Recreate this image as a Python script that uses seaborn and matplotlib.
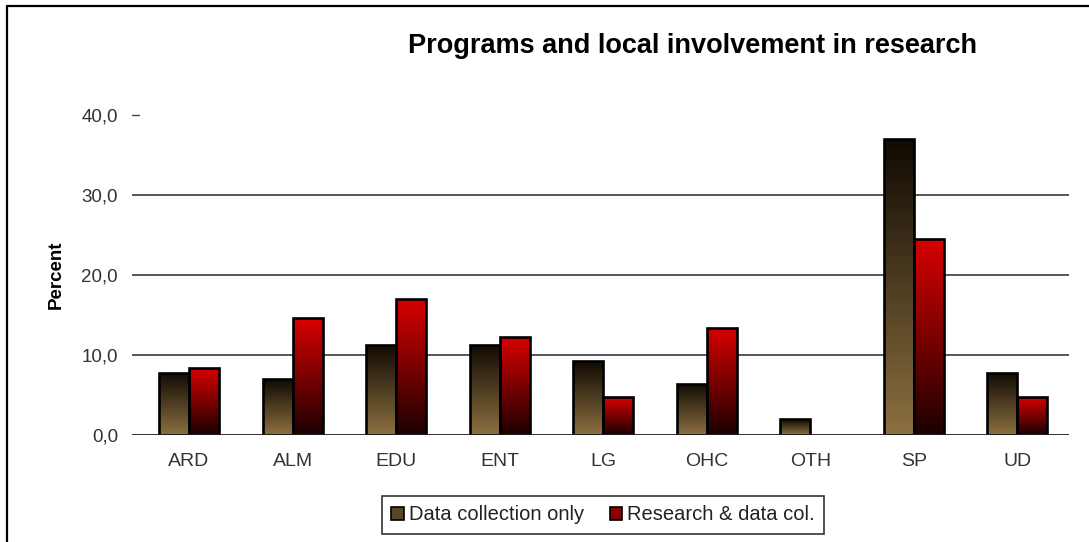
import numpy as np
import pandas as pd
import matplotlib
matplotlib.use("Agg")
import matplotlib.pyplot as plt
import seaborn as sns
from matplotlib.colors import LinearSegmentedColormap
from matplotlib.patches import Patch
from matplotlib.lines import Line2D

# values (percent)
programs = ['ARD', 'ALM', 'EDU', 'ENT', 'LG', 'OHC', 'OTH', 'SP', 'UD']
data_collection_only = [7.8, 7.0, 11.3, 11.3, 9.2, 6.4, 2.0, 37.0, 7.8]
research_and_data = [8.4, 14.6, 17.0, 12.2, 4.8, 13.4, 0.0, 24.5, 4.8]
series_names = ['Data collection only', 'Research & data col.']
y_ticks = [0, 10, 20, 30, 40]
y_tick_labels = ['0,0', '10,0', '20,0', '30,0', '40,0']

df = pd.DataFrame({
    'Program': programs * 2,
    'Percent': data_collection_only + research_and_data,
    'Series': [series_names[0]] * len(programs) + [series_names[1]] * len(programs),
})

sns.set_style("white")
plt.rcParams['font.family'] = ['Liberation Sans', 'DejaVu Sans']

fig = plt.figure(figsize=(10.89, 5.42), dpi=100)
ax = fig.add_axes([132 / 1089, 1 - 435 / 542, 937 / 1089, 320 / 542])

sns.barplot(data=df, x='Program', y='Percent', hue='Series', order=programs,
            hue_order=series_names, palette=['#6b5530', '#a00000'],
            width=0.58, legend=False, ax=ax, zorder=3)

# gradient fills (bottom colour -> top colour)
grads = [('#8c7040', '#100a03'), ('#1c0000', '#d80000')]
cmaps = [LinearSegmentedColormap.from_list('g%d' % i, g) for i, g in enumerate(grads)]
grad_img = np.linspace(0, 1, 256).reshape(-1, 1)

for cont, cmap in zip(ax.containers, cmaps):
    for patch in cont.patches:
        h = patch.get_height()
        if h <= 0:
            patch.set_visible(False)
            continue
        x0 = patch.get_x()
        x1 = x0 + patch.get_width()
        im = ax.imshow(grad_img, extent=[x0, x1, 0, h], origin='lower',
                       aspect='auto', cmap=cmap, zorder=2.9)
        im.set_clip_path(patch)
        patch.set_facecolor('none')
        patch.set_edgecolor('black')
        patch.set_linewidth(1.9)

ax.set_xlim(-0.551, 8.5)
ax.set_ylim(0, 40)

# grid lines at 10, 20, 30 and baseline
for yv in y_ticks[1:-1]:
    ax.axhline(yv, color='#4a4a4a', lw=1.3, zorder=1)
ax.axhline(0, color='#222222', lw=1.3, zorder=4)
ax.plot([-0.551, -0.48], [40, 40], color='#444444', lw=1, clip_on=False)

for s in ax.spines.values():
    s.set_visible(False)

ax.set_yticks(y_ticks)
ax.set_yticklabels(y_tick_labels, fontsize=13.5, color='#333333')
ax.tick_params(axis='y', length=0, pad=10)

ax.set_xticks(range(len(programs)))
ax.set_xticklabels(programs, fontsize=14, color='#333333')
ax.set_xticks(np.arange(0.5, len(programs), 1.0), minor=True)
ax.tick_params(axis='x', which='major', length=0, pad=13)
ax.tick_params(axis='x', which='minor', length=6, width=1, color='#333333', direction='out')

ax.set_xlabel('')
ax.set_ylabel('Percent', fontsize=13.5, fontweight='bold', color='black')
ax.yaxis.set_label_coords(-0.0715, 0.5)

fig.text(692 / 1089, 1 - 46 / 542, 'Programs and local involvement in research',
         ha='center', va='center', fontsize=19.5, fontweight='bold', color='black')

handles = [Patch(facecolor='#5a4526', edgecolor='black', lw=1.2),
           Patch(facecolor='#8a0000', edgecolor='black', lw=1.2)]
leg = fig.legend(handles, series_names, loc='center', ncol=2,
                 bbox_to_anchor=(603 / 1089, 1 - 515 / 542), fontsize=14.5,
                 frameon=True, fancybox=False, handlelength=0.6, handleheight=0.6,
                 handletextpad=0.25, columnspacing=1.3, borderpad=0.45,
                 borderaxespad=0)
for t in leg.get_texts():
    t.set_color('#222222')
leg.get_frame().set_edgecolor('black')
leg.get_frame().set_linewidth(1.2)

# outer frame (left and top edges visible)
fig.add_artist(Line2D([6.5 / 1089, 6.5 / 1089], [0, 1 - 6 / 542], color='black', lw=1.6))
fig.add_artist(Line2D([6.5 / 1089, 1], [1 - 6 / 542, 1 - 6 / 542], color='black', lw=1.6))

fig.savefig('out.png', dpi=100)
